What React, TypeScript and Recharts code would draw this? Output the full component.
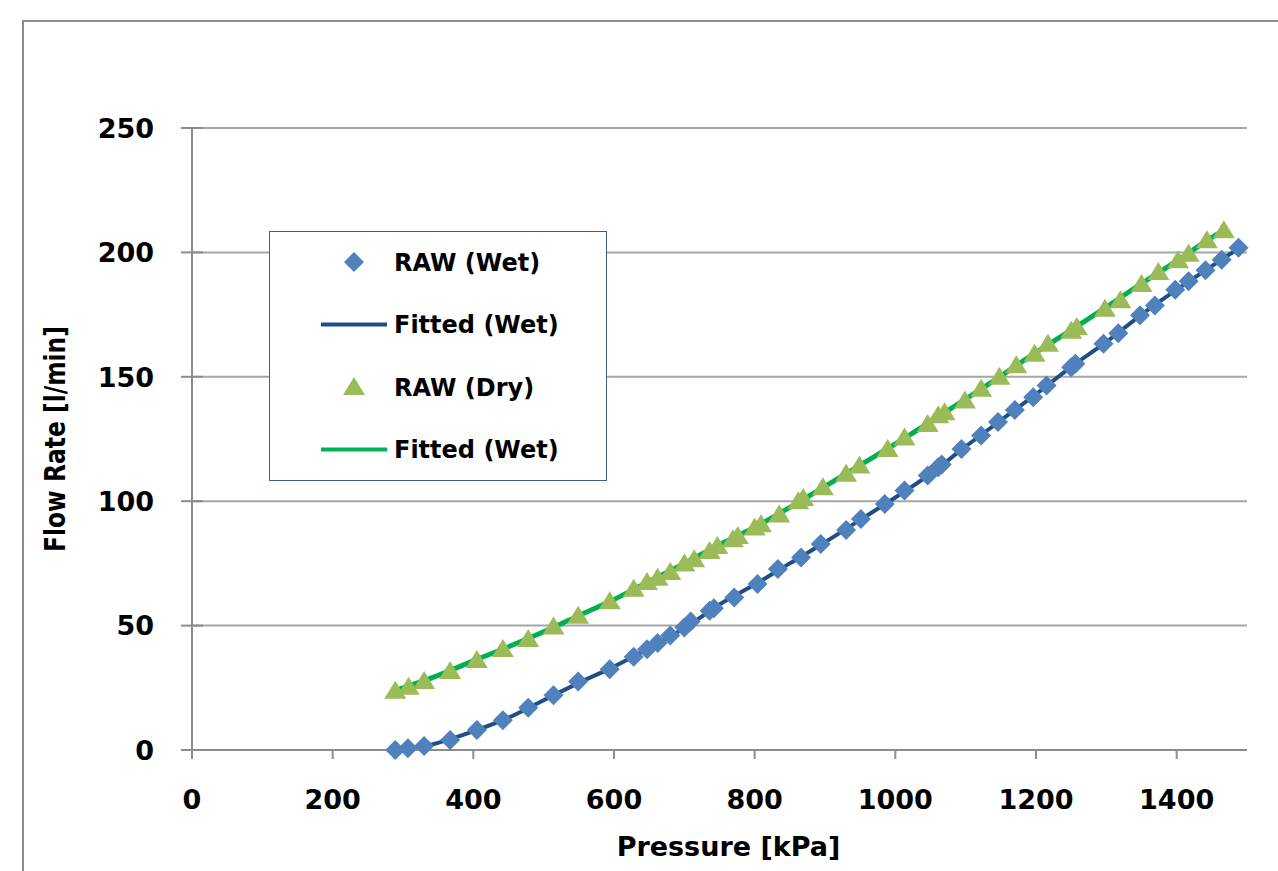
import { CartesianGrid, ComposedChart, Label, Legend, Line, Scatter, XAxis, YAxis } from "recharts";

const WET_PRESSURE = [
  289, 307, 330, 367, 405, 442, 478, 514, 549, 594, 628, 647, 662, 680, 700, 709, 736, 742, 771, 804, 833, 866, 894,
  930, 951, 985, 1013, 1046, 1061, 1066, 1094, 1122, 1146, 1170, 1196, 1215, 1250, 1256, 1296, 1317, 1348, 1369, 1398,
  1417, 1441, 1464, 1488,
];
const WET_FLOW = [
  0, 0.7, 1.6, 4, 8, 12, 17, 22, 27.5, 32.5, 37.5, 40.5, 43, 46, 49.2, 51.6, 56, 57, 61.3, 66.7, 72.7, 77.4, 82.8, 88.4,
  92.8, 98.9, 104.3, 110.3, 113.6, 114.8, 121, 126.4, 131.8, 136.7, 141.8, 146.5, 153.8, 155.2, 163.3, 167.5, 174.7,
  178.7, 185, 188.4, 192.8, 197, 201.9,
];
const DRY_PRESSURE = [
  289, 308, 330, 367, 405, 442, 478, 514, 549, 594, 628, 647, 662, 680, 700, 714, 736, 747, 769, 776, 800, 809, 835, 862,
  869, 897, 930, 949, 989, 1013, 1046, 1061, 1070, 1099, 1122, 1148, 1172, 1198, 1217, 1250, 1258, 1298, 1320, 1350, 1374,
  1402, 1417, 1443, 1467,
];
const DRY_FLOW = [
  23.8, 25.4, 27.7, 31.8, 36.2, 40.6, 44.6, 49.6, 54, 59.8, 64.8, 67.5, 69.2, 71.5, 75, 76.7, 80, 82, 84.7, 86, 89.4,
  90.7, 94.7, 100, 101.3, 105.6, 111, 114.3, 121, 125.6, 131, 134.5, 135.8, 140.5, 145.2, 150, 154.6, 159.3, 163.3, 168.5,
  170, 177.4, 180.8, 187.3, 192.1, 196.8, 199.5, 204.9, 208.9,
];

// Fitted curves, sampled along the drawn lines
const FIT_WET_PRESSURE = [
  290, 330, 400, 450, 500, 550, 600, 650, 700, 750, 800, 850, 900, 950, 1000, 1050, 1100, 1150, 1200, 1250, 1300, 1350,
  1400, 1450, 1490,
];
const FIT_WET_FLOW = [
  0, 1.5, 7.5, 13, 20, 27, 33.5, 41, 49, 58.5, 66.5, 75, 83.5, 92.5, 101.5, 111, 122, 132.5, 143, 154, 164, 175, 185,
  194.5, 202,
];
const FIT_DRY_PRESSURE = [
  290, 350, 400, 450, 500, 550, 600, 650, 700, 750, 800, 850, 900, 950, 1000, 1050, 1100, 1150, 1200, 1250, 1300, 1350,
  1400, 1450, 1470,
];
const FIT_DRY_FLOW = [
  24, 30, 35.8, 41.5, 47.5, 54, 60.5, 67.8, 75, 82.5, 89.5, 97.5, 106, 114.5, 123, 132, 141, 150.3, 159.8, 168.8, 178,
  187.5, 196.5, 206, 209.5,
];

const X_TICKS = [0, 200, 400, 600, 800, 1000, 1200, 1400];
const Y_TICKS = [0, 50, 100, 150, 200, 250];

const LEGEND_ITEMS = [
  { name: "RAW (Wet)", kind: "diamond", color: "#4f81bd" },
  { name: "Fitted (Wet)", kind: "line", color: "#1f4e87" },
  { name: "RAW (Dry)", kind: "triangle", color: "#9bbb59" },
  { name: "Fitted (Wet)", kind: "line", color: "#00b050" },
];

const zip = (xs: number[], ys: number[]) => xs.map((p, i) => ({ p, f: ys[i] }));
const wetRaw = zip(WET_PRESSURE, WET_FLOW);
const dryRaw = zip(DRY_PRESSURE, DRY_FLOW);
const wetFit = zip(FIT_WET_PRESSURE, FIT_WET_FLOW);
const dryFit = zip(FIT_DRY_PRESSURE, FIT_DRY_FLOW);

const FONT = "'DejaVu Sans', Verdana, sans-serif";
const AXIS_GRAY = "#8c8c8c";

function Diamond({ cx, cy }: { cx?: number; cy?: number }) {
  if (cx == null || cy == null) return null;
  return <path d={`M${cx},${cy - 10} L${cx + 10},${cy} L${cx},${cy + 10} L${cx - 10},${cy} Z`} fill="#4f81bd" />;
}

function Triangle({ cx, cy }: { cx?: number; cy?: number }) {
  if (cx == null || cy == null) return null;
  return <path d={`M${cx},${cy - 10} L${cx + 11},${cy + 8} L${cx - 11},${cy + 8} Z`} fill="#9bbb59" />;
}

/** Y ticks cross the axis, Excel style. */
function YTick({ x, y, payload }: { x?: number; y?: number; payload?: { value: number } }) {
  if (x == null || y == null || !payload) return null;
  return (
    <g>
      <line x1={x - 11} x2={x + 11} y1={y} y2={y} stroke={AXIS_GRAY} strokeWidth={2} />
      <text x={x - 38} y={y} dy="0.36em" textAnchor="end" fontFamily={FONT} fontWeight="bold" fontSize={27} fill="#000">
        {payload.value}
      </text>
    </g>
  );
}

function LegendBox() {
  return (
    <div
      style={{
        width: 336,
        height: 248,
        border: "1.5px solid #3d5f8f",
        background: "#fff",
        position: "relative",
        fontFamily: FONT,
      }}
    >
      <svg width={336} height={248} style={{ position: "absolute", left: 0, top: 0 }}>
        {LEGEND_ITEMS.map((it, i) => {
          const cy = 30 + i * 62.5;
          return (
            <g key={i}>
              {it.kind === "diamond" && <Diamond cx={84} cy={cy} />}
              {it.kind === "triangle" && <Triangle cx={84} cy={cy} />}
              {it.kind === "line" && <line x1={51} x2={117} y1={cy} y2={cy} stroke={it.color} strokeWidth={4} />}
              <text x={124} y={cy} dy="0.36em" fontFamily={FONT} fontWeight="bold" fontSize={24} fill="#000">
                {it.name}
              </text>
            </g>
          );
        })}
      </svg>
    </div>
  );
}

export default function App() {
  return (
    <div style={{ position: "absolute", left: 0, top: 0, width: 1278, height: 871, background: "#fff", overflow: "hidden" }}>
      <div
        style={{
          position: "absolute",
          left: 22,
          top: 20,
          width: 1300,
          height: 900,
          borderTop: `2px solid ${AXIS_GRAY}`,
          borderLeft: `2px solid ${AXIS_GRAY}`,
        }}
      />
      <div style={{ position: "absolute", left: 0, top: 0 }}>
        <ComposedChart width={1278} height={871} margin={{ top: 128, right: 31, bottom: 0, left: 0 }}>
          <CartesianGrid vertical={false} stroke="#a6a6a6" strokeWidth={2} />
          <XAxis
            type="number"
            dataKey="p"
            domain={[0, 1500]}
            ticks={X_TICKS}
            interval={0}
            height={121}
            tickSize={9}
            tickMargin={31}
            axisLine={{ stroke: AXIS_GRAY, strokeWidth: 2 }}
            tickLine={{ stroke: AXIS_GRAY, strokeWidth: 2 }}
            tick={{ fontFamily: FONT, fontWeight: "bold", fontSize: 27, fill: "#000" }}
          >
            <Label
              content={({ viewBox }: any) => (
                <text
                  x={viewBox.x + viewBox.width / 2 + 9}
                  y={846}
                  dy="0.36em"
                  textAnchor="middle"
                  fontFamily={FONT}
                  fontWeight="bold"
                  fontSize={27}
                  fill="#000"
                >
                  Pressure [kPa]
                </text>
              )}
            />
          </XAxis>
          <YAxis
            type="number"
            dataKey="f"
            domain={[0, 250]}
            ticks={Y_TICKS}
            interval={0}
            width={192}
            tickSize={0}
            tickMargin={0}
            tickLine={false}
            axisLine={{ stroke: AXIS_GRAY, strokeWidth: 2 }}
            tick={<YTick />}
          >
            <Label
              content={({ viewBox }: any) => (
                <text
                  x={55}
                  y={viewBox.y + viewBox.height / 2}
                  dy="0.36em"
                  textAnchor="middle"
                  transform={`rotate(-90 55 ${viewBox.y + viewBox.height / 2})`}
                  fontFamily="'DejaVu Sans Condensed', 'DejaVu Sans', sans-serif"
                  fontWeight="bold"
                  fontSize={29}
                  textLength={226}
                  lengthAdjust="spacingAndGlyphs"
                  fill="#000"
                >
                  Flow Rate [l/min]
                </text>
              )}
            />
          </YAxis>

          <Line
            data={wetFit}
            dataKey="f"
            name="Fitted (Wet)"
            type="monotone"
            stroke="#1f4e87"
            strokeWidth={4}
            dot={false}
            activeDot={false}
            isAnimationActive={false}
          />
          <Line
            data={dryFit}
            dataKey="f"
            name="Fitted (Dry)"
            type="monotone"
            stroke="#00b050"
            strokeWidth={5}
            dot={false}
            activeDot={false}
            isAnimationActive={false}
          />
          <Scatter data={wetRaw} dataKey="f" name="RAW (Wet)" shape={<Diamond />} isAnimationActive={false} />
          <Scatter data={dryRaw} dataKey="f" name="RAW (Dry)" shape={<Triangle />} isAnimationActive={false} />

          <Legend
            layout="vertical"
            align="center"
            verticalAlign="middle"
            content={() => <LegendBox />}
            wrapperStyle={{ left: 269, top: 231, width: 339, height: 251 }}
          />
        </ComposedChart>
      </div>
    </div>
  );
}
